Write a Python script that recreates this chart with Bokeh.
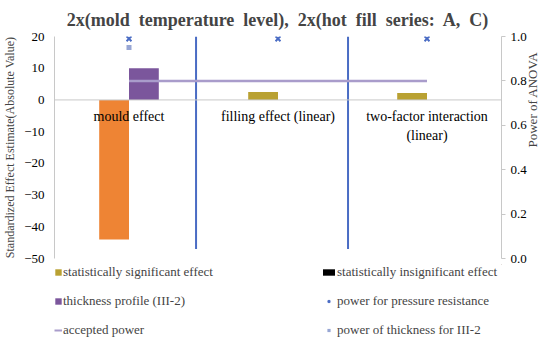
import math
from bokeh.plotting import figure
from bokeh.layouts import column
from bokeh.models import (ColumnDataSource, Range1d, LinearAxis, Legend, LegendItem,
                          FixedTicker, Span)
from bokeh.transform import dodge
from bokeh.core.properties import value
from bokeh.embed import file_html
from bokeh.resources import INLINE

# ---------------- data ----------------
categories = ["mould effect", "filling effect (linear)", "two-factor interaction\n(linear)"]
cat_x = [0, 1, 2]
significant_effect = [-44, 2.5, 2.2]
significant_colors = ["#EE8434", "#B9A132", "#B9A132"]
insignificant_effect = [0, 0, 0]
thickness_profile = [10, 0, 0]
power_pressure = [0.99, 0.99, 0.99]
thickness_power_x = [0]
power_thickness = [0.95]
accepted_power = [0.8, 0.8, 0.8]
separators = [0.45, 1.47]
left_ticks = [-50, -40, -30, -20, -10, 0, 10, 20]
right_ticks = [0.0, 0.2, 0.4, 0.6, 0.8, 1.0]

SERIF = "Liberation Serif"
OLIVE = "#B9A132"
PURPLE = "#7B569C"
BLUE = "#4A6CC4"
LILAC = "#A99CCB"
SQUARE = "#97A6D4"

src = ColumnDataSource(dict(x=cat_x, sig=significant_effect, col=significant_colors,
                            ins=insignificant_effect, thk=thickness_profile,
                            pp=power_pressure, ap=accepted_power, lab=categories))

p = figure(width=550, height=264, x_range=Range1d(-0.5, 2.5), y_range=Range1d(-50, 20),
           output_backend="svg", toolbar_location=None, x_axis_location=None,
           min_border_left=53, min_border_right=47, min_border_top=33, min_border_bottom=6)
p.extra_y_ranges = {"power": Range1d(0, 1)}

p.title.text = "2x(mold\u00a0 temperature\u00a0 level),\u00a0 2x(hot\u00a0 fill\u00a0 series:\u00a0 A,\u00a0 C)"
p.title.align = "center"
p.title.offset = -5
p.title.text_font = SERIF
p.title.text_font_size = "18px"
p.title.text_font_style = "bold"
p.title.standoff = 14

p.xgrid.grid_line_color = None
p.ygrid.grid_line_color = None
p.outline_line_color = None

# zero line acting as category axis
p.add_layout(Span(location=0, dimension="width", line_color="#C8C8C8", line_width=1))

# bars
r_sig = p.vbar(x=dodge("x", -0.1, range=p.x_range), top="sig", bottom=0, width=0.2,
               source=src, fill_color="col", line_color=None)
r_ins = p.vbar(x=dodge("x", 0.0, range=p.x_range), top="ins", bottom=0, width=0.2,
               source=src, fill_color="black", line_color=None)
r_thk = p.vbar(x=dodge("x", 0.1, range=p.x_range), top="thk", bottom=0, width=0.2,
               source=src, fill_color=PURPLE, line_color=None)

# category labels below the zero line
p.text(x="x", y=0, text="lab", source=src, y_offset=9, text_align="center",
       text_baseline="top", text_font=value(SERIF), text_font_size="14px",
       text_line_height=1.25, text_color="black")

# separators
p.segment(x0=separators, x1=separators, y0=20, y1=-47, line_color=BLUE, line_width=2)

# power series
p.line("x", "ap", source=src, y_range_name="power", line_color=LILAC, line_width=2.5)
p.scatter("x", "pp", source=src, y_range_name="power", marker="x",
          size=7, line_color=BLUE, line_width=2)
p.scatter(thickness_power_x, power_thickness, y_range_name="power", marker="square",
          size=5, fill_color=SQUARE, line_color=None)

ya = p.yaxis[0]
ya.ticker = FixedTicker(ticks=left_ticks)
ya.axis_line_color = "#C8C8C8"
ya.major_tick_out = 0
ya.major_tick_in = 0
ya.minor_tick_out = 0
ya.minor_tick_in = 0
ya.major_label_standoff = 10
ya.major_label_text_font = SERIF
ya.major_label_text_font_size = "13px"
ya.major_label_text_color = "black"
ya.axis_label = "Standardized Effect Estimate(Absolute Value)"
ya.axis_label_text_font = SERIF
ya.axis_label_text_font_size = "12px"
ya.axis_label_text_font_style = "normal"
ya.axis_label_standoff = 4

ra = LinearAxis(y_range_name="power", ticker=FixedTicker(ticks=right_ticks))
ra.axis_line_color = "#C8C8C8"
ra.major_tick_line_color = "#C8C8C8"
ra.major_tick_out = 4
ra.major_tick_in = 0
ra.minor_tick_out = 0
ra.minor_tick_in = 0
ra.major_label_standoff = 5
ra.major_label_overrides = {t: f"{t:.1f}" for t in right_ticks}
ra.major_label_text_font = SERIF
ra.major_label_text_font_size = "13px"
ra.major_label_text_color = "black"
ra.axis_label = "Power of ANOVA"
ra.axis_label_text_font = SERIF
ra.axis_label_text_font_size = "13px"
ra.axis_label_text_font_style = "normal"
ra.axis_label_standoff = 3
ra.axis_label_orientation = math.pi / 2
p.add_layout(ra, "right")

# ---------------- legend strip below the chart ----------------
q = figure(width=550, height=75, x_range=Range1d(0, 1), y_range=Range1d(0, 1),
           output_backend="svg", toolbar_location=None,
           x_axis_location=None, y_axis_location=None,
           min_border_left=53, min_border_right=47, min_border_top=0, min_border_bottom=0)
q.xgrid.grid_line_color = None
q.ygrid.grid_line_color = None
q.outline_line_color = None

# legend key renderers (their single point lies outside the visible range)
l_sig = q.vbar(x=[3], top=[3], bottom=2, width=0.1, fill_color=OLIVE, line_color=None)
l_ins = q.vbar(x=[3], top=[3], bottom=2, width=0.1, fill_color="black", line_color=None)
l_thk = q.vbar(x=[3], top=[3], bottom=2, width=0.1, fill_color=PURPLE, line_color=None)
l_ap = q.line(x=[3, 4], y=[3, 3], line_color=LILAC, line_width=2)
l_pp = q.scatter(x=[3], y=[3], marker="x", size=7, line_color=BLUE, line_width=2)
l_pt = q.scatter(x=[3], y=[3], marker="square", size=5, fill_color=SQUARE, line_color=None)


def mk_legend(items, x, gw):
    return Legend(items=items, location=(x, 1), orientation="vertical",
                  glyph_width=gw, glyph_height=8, label_height=14, spacing=13,
                  padding=0, margin=0, label_standoff=1,
                  label_text_font=SERIF, label_text_font_size="13px",
                  background_fill_alpha=0, border_line_color=None)


q.add_layout(mk_legend([
    LegendItem(label="statistically significant effect", renderers=[l_sig]),
    LegendItem(label="thickness profile (III-2)", renderers=[l_thk]),
    LegendItem(label="accepted power", renderers=[l_ap]),
], 0, 8), "center")
q.add_layout(mk_legend([
    LegendItem(label="statistically insignificant effect", renderers=[l_ins]),
    LegendItem(label="power for pressure resistance", renderers=[l_pp]),
    LegendItem(label="power of thickness for III-2", renderers=[l_pt]),
], 267, 15), "center")

layout = column(p, q, spacing=0)
open("out.html", "w").write(file_html(layout, INLINE))
